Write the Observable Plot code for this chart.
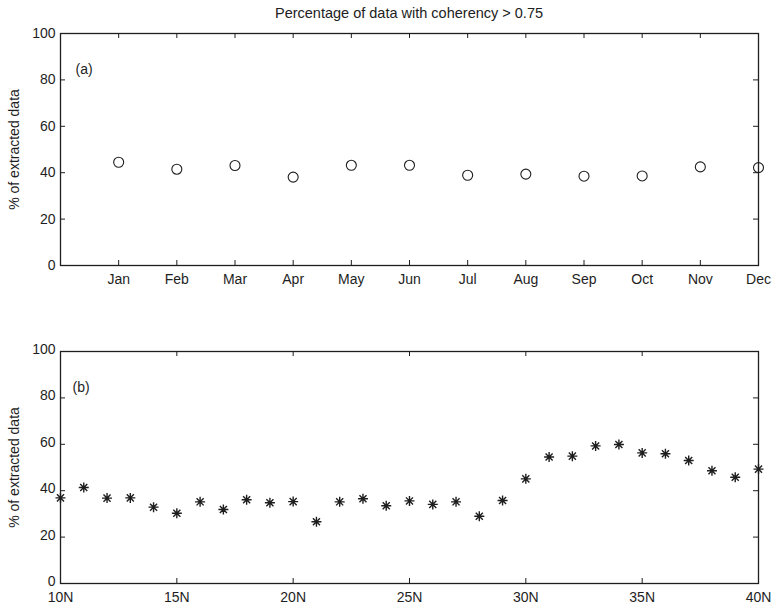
<!DOCTYPE html>
<html>
<head>
<meta charset="utf-8">
<script src="https://cdn.jsdelivr.net/npm/d3@7"></script>
<script src="https://cdn.jsdelivr.net/npm/@observablehq/plot@0.6"></script>
<style>
  body { margin: 0; background: #fff; }
  #page { position: relative; width: 771px; height: 606px; overflow: hidden; background: #fff; }
  #title { position: absolute; top: 5px; left: 60px; width: 698px; text-align: center;
           font: 14.5px "Liberation Sans", Arial, sans-serif; color: #222; }
  .panel { position: absolute; left: 0; }
</style>
</head>
<body>
<div id="page">
  <div id="panelA" class="panel" style="top:20px"></div>
  <div id="panelB" class="panel" style="top:300px"></div>
  <div id="title">Percentage of data with coherency &gt; 0.75</div>
</div>
<script>
// Monthly share of records passing the coherency threshold
const months = ["Jan", "Feb", "Mar", "Apr", "May", "Jun", "Jul", "Aug", "Sep", "Oct", "Nov", "Dec"];
const monthIndex = [1, 2, 3, 4, 5, 6, 7, 8, 9, 10, 11, 12];
const percentByMonth = [44.5, 41.5, 43.1, 38.1, 43.2, 43.2, 38.9, 39.4, 38.5, 38.6, 42.5, 42.2];

// Share by latitude band (degrees north)
const latitudes = [10, 11, 12, 13, 14, 15, 16, 17, 18, 19, 20, 21, 22, 23, 24, 25,
                   26, 27, 28, 29, 30, 31, 32, 33, 34, 35, 36, 37, 38, 39, 40];
const percentByLatitude = [36.9, 41.4, 36.8, 36.9, 32.9, 30.3, 35.2, 31.9, 36.1, 34.8, 35.3,
                           26.6, 35.2, 36.5, 33.5, 35.6, 34.1, 35.2, 29.0, 35.8, 45.1,
                           54.5, 54.9, 59.3, 59.9, 56.3, 55.9, 53.0, 48.6, 45.8, 49.3];

const percentTicks = [0, 20, 40, 60, 80, 100];
const latitudeTicks = [10, 15, 20, 25, 30, 35, 40];
const latitudeTickLabels = ["10N", "15N", "20N", "25N", "30N", "35N", "40N"];

const ink = "#1e1e1e";
const font = "\"Liberation Sans\", Arial, sans-serif";

// Eight-armed asterisk marker (plus overlaid with a cross)
const asterisk = {
  draw(context, size) {
    const r = Math.sqrt(size / Math.PI);
    const d = r * Math.SQRT1_2;
    context.moveTo(-r, 0); context.lineTo(r, 0);
    context.moveTo(0, -r); context.lineTo(0, r);
    context.moveTo(-d, -d); context.lineTo(d, d);
    context.moveTo(-d, d); context.lineTo(d, -d);
  }
};

const W = 771, ML = 60, MR = 13;
const frameW = W - ML - MR;
const TICK = 5;

// Inward ticks on all four sides of the box
function boxTicks(xTicks, frameH) {
  return [
    Plot.ruleX(xTicks, {x: d => d, insetTop: frameH - TICK, stroke: ink, strokeWidth: 1}),
    Plot.ruleX(xTicks, {x: d => d, insetBottom: frameH - TICK, stroke: ink, strokeWidth: 1}),
    Plot.ruleY(percentTicks, {y: d => d, insetRight: frameW - TICK, stroke: ink, strokeWidth: 1}),
    Plot.ruleY(percentTicks, {y: d => d, insetLeft: frameW - TICK, stroke: ink, strokeWidth: 1})
  ];
}

function yAxisMarks(dy = 0) {
  return [
    Plot.axisY(percentTicks, {tickSize: 0, tickPadding: 5, label: null, fontSize: 14, dy}),
    Plot.text(["% of extracted data"], {frameAnchor: "left", rotate: -90, dx: -46,
      textAnchor: "middle", lineAnchor: "middle", fontSize: 14, fill: ink})
  ];
}

// (a) by month
{
  const H = 280, MT = 13, MB = 35;
  const frameH = H - MT - MB;
  const chart = Plot.plot({
    width: W, height: H,
    marginTop: MT, marginBottom: MB, marginLeft: ML, marginRight: MR,
    style: {fontFamily: font, fontSize: "14px", color: ink, background: "transparent"},
    x: {domain: [0, 12]},
    y: {domain: [0, 100]},
    marks: [
      ...boxTicks(monthIndex, frameH),
      Plot.frame({stroke: ink, strokeWidth: 1.3}),
      Plot.axisX(monthIndex, {tickSize: 0, tickPadding: 9, label: null, fontSize: 14,
        tickFormat: i => months[i - 1]}),
      ...yAxisMarks(),
      Plot.text(["(a)"], {frameAnchor: "top-left", dx: 15, dy: 36, textAnchor: "start",
        lineAnchor: "middle", fontSize: 14, fill: ink}),
      Plot.dot(monthIndex, {x: d => d, y: (d, i) => percentByMonth[i], r: 5,
        stroke: ink, strokeWidth: 1.1, fill: "none"})
    ]
  });
  document.getElementById("panelA").append(chart);
}

// (b) by latitude
{
  const H = 306, MT = 51, MB = 23;
  const frameH = H - MT - MB;
  const chart = Plot.plot({
    width: W, height: H,
    marginTop: MT, marginBottom: MB, marginLeft: ML, marginRight: MR,
    style: {fontFamily: font, fontSize: "14px", color: ink, background: "transparent"},
    x: {domain: [10, 40]},
    y: {domain: [0, 100]},
    marks: [
      ...boxTicks(latitudeTicks, frameH),
      Plot.frame({stroke: ink, strokeWidth: 1.3}),
      Plot.axisX(latitudeTicks, {tickSize: 0, tickPadding: 9, label: null, fontSize: 14,
        tickFormat: (d, i) => latitudeTickLabels[i]}),
      ...yAxisMarks(-2),
      Plot.text(["(b)"], {frameAnchor: "top-left", dx: 12, dy: 36, textAnchor: "start",
        lineAnchor: "middle", fontSize: 14, fill: ink}),
      Plot.dot(latitudes, {x: d => d, y: (d, i) => percentByLatitude[i], r: 5,
        symbol: asterisk, stroke: ink, strokeWidth: 1.4, fill: "none"})
    ]
  });
  document.getElementById("panelB").append(chart);
}
</script>
</body>
</html>
